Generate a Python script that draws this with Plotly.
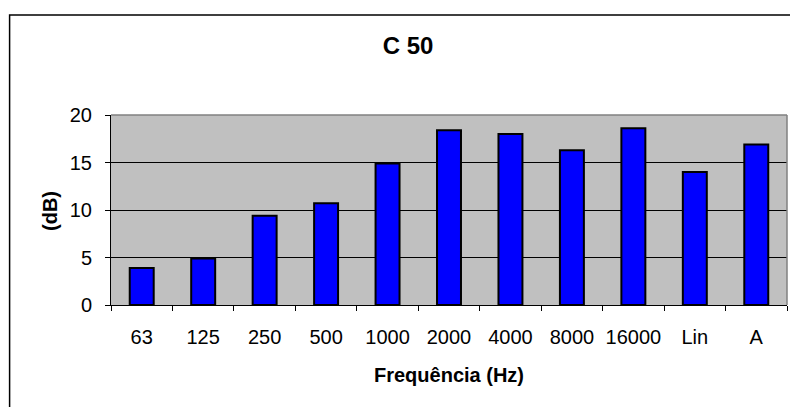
import plotly.graph_objects as go

# ─── Data ─────────────────────────────────────────────────────────────────────
categories = ["63", "125", "250", "500", "1000", "2000", "4000", "8000", "16000", "Lin", "A"]
values_db = [3.9, 4.9, 9.4, 10.7, 14.9, 18.4, 18.0, 16.3, 18.6, 14.0, 16.9]
y_ticks = [0, 5, 10, 15, 20]

FONT = "Liberation Sans, Arial, sans-serif"
PLOT_BG = "#c0c0c0"

# page has an 8px body margin, so the figure is 790x399 inside the 798x407 window
W, H = 790, 399

fig = go.Figure(go.Bar(
    x=categories, y=values_db,
    marker=dict(color="#0000ff", line=dict(color="black", width=2)),
    hoverinfo="x+y",
))

fig.update_layout(
    width=W, height=H,
    paper_bgcolor="white",
    plot_bgcolor=PLOT_BG,
    font=dict(family=FONT, color="black", size=20),
    margin=dict(l=103, r=11, t=107, b=102, pad=0),
    bargap=0.61,
    showlegend=False,
    title=dict(text="<b>C 50</b>", x=400 / W, xref="container", xanchor="center",
               y=1 - 38 / H, yref="container", yanchor="middle",
               font=dict(size=24, family=FONT)),
    xaxis=dict(
        type="category",
        tickson="boundaries",
        tickangle=0,
        ticks="outside", ticklen=5, tickcolor="black",
        showline=True, linecolor="black", linewidth=1,
        showgrid=False,
        ticklabelstandoff=14,
        tickfont=dict(size=20),
    ),
    yaxis=dict(
        range=[0, 20], tickvals=y_ticks,
        ticks="outside", ticklen=5, tickcolor="black",
        showline=True, linecolor="black", linewidth=1,
        showgrid=True, gridcolor="black", gridwidth=1,
        zeroline=False,
        ticklabelstandoff=9,
    ),
    annotations=[
        dict(text="<b>Frequência (Hz)</b>", xref="paper", yref="paper",
             x=0.5, y=-0.368, xanchor="center", yanchor="middle",
             showarrow=False, font=dict(size=20)),
        dict(text="<b>(dB)</b>", xref="paper", yref="paper",
             x=-0.0902, y=0.495, xanchor="center", yanchor="middle",
             textangle=-90, showarrow=False, font=dict(size=20)),
    ],
)

# plot-area border (grey on top/right, like the spreadsheet chart)
fig.add_shape(type="line", xref="paper", yref="paper", x0=0, x1=1, y0=1, y1=1,
              line=dict(color="#808080", width=1.5))
fig.add_shape(type="line", xref="paper", yref="paper", x0=1, x1=1, y0=0, y1=1,
              line=dict(color="#808080", width=1.5))

# outer chart frame
fig.add_shape(type="rect", xref="paper", yref="paper",
              x0=-0.150, x1=1.05, y0=-0.6, y1=1.526,
              line=dict(color="black", width=1.5))

fig.write_html("out.html")
